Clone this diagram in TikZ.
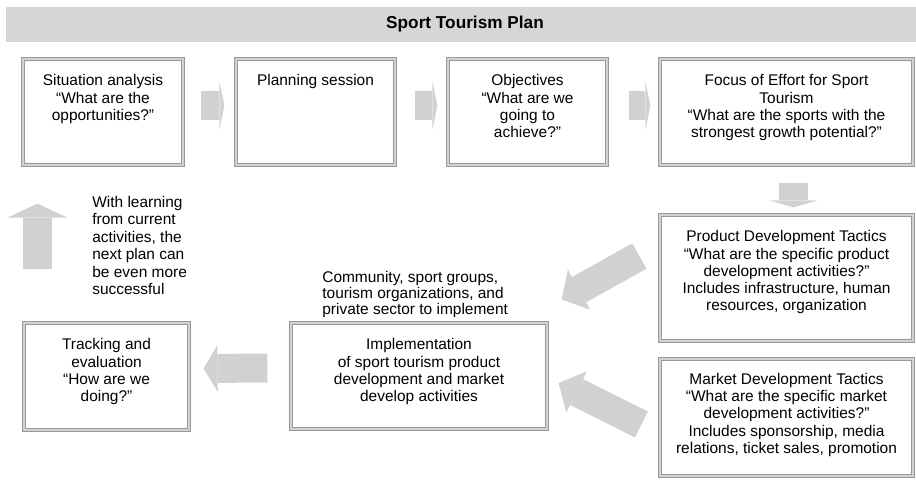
\documentclass[tikz,border=0pt]{standalone}
\usepackage{fontspec}
\setmainfont{Liberation Sans}
\usetikzlibrary{fit,calc,arrows.meta}

\begin{document}
\begin{tikzpicture}[x=0.02cm,y=-0.02cm,
  font=\fontsize{8.8}{9.8}\selectfont,
  box/.style={draw=gray!80, double=gray!35, double distance=0.35mm, line width=0.24mm, fill=white, inner sep=0},
  boxtext/.style={anchor=north, align=center, inner sep=0},
  note/.style={anchor=north west, align=left, inner sep=0, font=\fontsize{8.8}{10}\selectfont},
  flow/.style={draw=gray!36, line width=5.8mm}]
\useasboundingbox (0,0) rectangle (916,481);

% title band
\node[fill=gray!32, inner sep=0, fit={(6,7) (916,42)}] (banner) {};
\node[font=\bfseries\fontsize{9.8}{11}\selectfont] (title) at (465,24.5) {Sport Tourism Plan};

% boxes
\node[box, fit={(23,59) (183,165)}] (sit) {};
\node[box, fit={(236,59) (395,165)}] (plan) {};
\node[box, fit={(448,59) (607,165)}] (obj) {};
\node[box, fit={(660,59) (913,165)}] (focus) {};
\node[box, fit={(660,215) (913,341)}] (prod) {};
\node[box, fit={(660,359) (913,476)}] (market) {};
\node[box, fit={(291,323) (547,429)}] (impl) {};
\node[box, fit={(24,323) (189,430)}] (track) {};

% box texts
\node[boxtext] (sittxt) at ($(sit.north)+(0,16)$) {Situation analysis\\``What are the\\opportunities?''};
\node[boxtext] (plantxt) at ($(plan.north)+(0,16)$) {Planning session};
\node[boxtext] (objtxt) at ($(obj.north)+(0,16)$) {Objectives\\``What are we\\going to\\achieve?''};
\node[boxtext] (focustxt) at ($(focus.north)+(0,16)$) {Focus of Effort for Sport\\Tourism\\``What are the sports with the\\strongest growth potential?''};
\node[boxtext] (prodtxt) at ($(prod.north)+(0,16)$) {Product Development Tactics\\``What are the specific product\\development activities?''\\Includes infrastructure, human\\resources, organization};
\node[boxtext] (markettxt) at ($(market.north)+(0,14.5)$) {Market Development Tactics\\``What are the specific market\\development activities?''\\Includes sponsorship, media\\relations, ticket sales, promotion};
\node[boxtext] (impltxt) at ($(impl.north)+(0,16)$) {Implementation\\of sport tourism product\\development and market\\develop activities};
\node[boxtext] (tracktxt) at ($(track.north)+(0,16)$) {Tracking and\\evaluation\\``How are we\\doing?''};

% free notes
\node[note] (learn) at (92,195.5) {With learning\\from current\\activities, the\\next plan can\\be even more\\successful};
\node[note, font=\fontsize{8.8}{9.1}\selectfont] (groups) at (322,271) {Community, sport groups,\\tourism organizations, and\\private sector to implement};

% block arrows
\draw[flow, -{Triangle[length=1mm, width=9.6mm, line width=0pt]}] ($(sit.east)+(17,-6.5)$) -- ($(plan.west)+(-11,-6.5)$);
\draw[flow, -{Triangle[length=1mm, width=9.6mm, line width=0pt]}] ($(plan.east)+(19,-6.5)$) -- ($(obj.west)+(-10,-6.5)$);
\draw[flow, -{Triangle[length=1mm, width=9.6mm, line width=0pt]}] ($(obj.east)+(21,-6.5)$) -- ($(focus.west)+(-9,-6.5)$);
\draw[flow, -{Triangle[length=1.4mm, width=9.6mm, line width=0pt]}] ($(focus.south)+(7,17)$) -- ($(prod.north)+(7,-7)$);
\draw[flow, -{Triangle[length=4mm, width=9.2mm, line width=0pt]}] ($(prod.west)+(-20,-22)$) -- ($(impl.north east)+(14,-23)$);
\draw[flow, -{Triangle[length=4mm, width=9.2mm, line width=0pt]}] ($(market.west)+(-18,7)$) -- ($(impl.east)+(11,7)$);
\draw[flow, -{Triangle[length=2.8mm, width=9.4mm, line width=0pt]}] ($(impl.west)+(-23,-8)$) -- ($(track.east)+(14,-8)$);
\draw[flow, -{Triangle[length=2.8mm, width=12mm, line width=0pt]}] ($(track.north west)+(14,-53)$) -- ($(sit.south west)+(15,38)$);
\end{tikzpicture}
\end{document}
